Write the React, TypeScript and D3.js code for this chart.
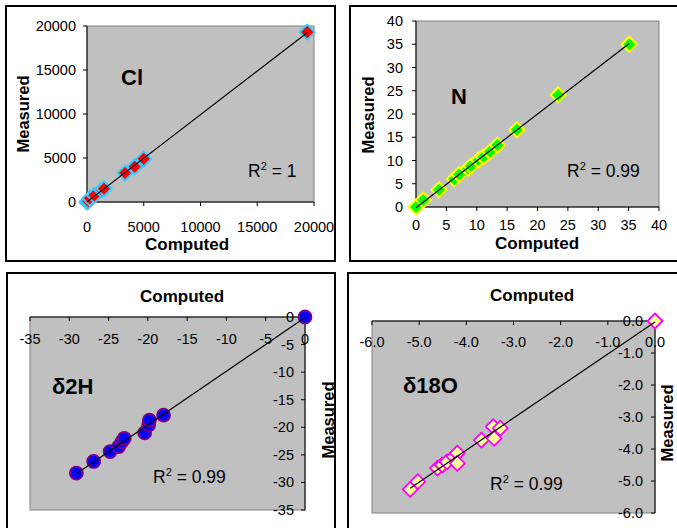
import React from "react";
import * as d3 from "d3";

// ---------- data ----------
const clComputed = [0, 120, 260, 650, 1300, 1500, 3350, 4200, 5000, 19400];
const clMeasured = [0, 100, 420, 750, 1360, 1500, 3300, 4000, 4900, 19300];
const clTicks = [0, 5000, 10000, 15000, 20000];

const nComputed = [0, 1.2, 3.8, 6.3, 7.1, 8.6, 9.05, 10.3, 11.1, 12.2, 13.4, 16.6, 23.4, 35.1];
const nMeasured = [0, 1.5, 3.7, 6.0, 7.0, 8.3, 8.8, 10.1, 10.8, 11.9, 13.3, 16.6, 24.1, 35.0];
const nTicks = [0, 5, 10, 15, 20, 25, 30, 35, 40];

const h2Computed = [-29.1, -26.9, -24.8, -23.7, -23.3, -23.0, -20.4, -19.9, -19.8, -18.0, 0];
const h2Measured = [-28.3, -26.2, -24.4, -23.5, -22.6, -22.0, -21.0, -19.6, -18.7, -17.8, 0];
const h2Ticks = [-35, -30, -25, -20, -15, -10, -5, 0];

const o18Computed = [-5.19, -5.03, -4.61, -4.51, -4.41, -4.26, -4.19, -4.19, -3.68, -3.43, -3.41, -3.28, 0];
const o18Measured = [-5.26, -5.02, -4.6, -4.5, -4.4, -4.24, -4.13, -4.45, -3.72, -3.3, -3.67, -3.35, 0];
const o18Ticks = [-6, -5, -4, -3, -2, -1, 0];

const panelLabels = ["Cl", "N", "δ2H", "δ18O"];
const r2Values = ["1", "0.99", "0.99", "0.99"];

const FONT = "'Liberation Sans', Arial, Helvetica, sans-serif";

type Spec = {
  xs: number[];
  ys: number[];
  xTicks: number[];
  yTicks: number[];
  xRange: [number, number];
  yRange: [number, number];
  fmt: (v: number) => string;
  frame: [number, number, number, number];
  xAxisTop: boolean;
  yAxisRight: boolean;
  xLabelY: number;
  yLabelX: number;
  xTitle: [number, number];
  yTitle: [number, number];
  label: string;
  labelPos: [number, number];
  r2: string;
  r2Pos: [number, number];
  marker: "diamond" | "circle";
  fill: string;
  stroke: string;
  size: number;
  sw: number;
};

function fit(xs: number[], ys: number[]) {
  const mx = d3.mean(xs)!;
  const my = d3.mean(ys)!;
  let sxy = 0, sxx = 0;
  xs.forEach((x, i) => {
    sxy += (x - mx) * (ys[i] - my);
    sxx += (x - mx) * (x - mx);
  });
  const b = sxy / sxx;
  const a = my - b * mx;
  return (x: number) => a + b * x;
}

function Panel({ s }: { s: Spec }) {
  const xDom = d3.extent(s.xTicks) as [number, number];
  const yDom = d3.extent(s.yTicks) as [number, number];
  const x = d3.scaleLinear().domain(xDom).range(s.xRange);
  const yDomOrdered: [number, number] = s.xAxisTop ? [yDom[1], yDom[0]] : [yDom[0], yDom[1]];
  const y = d3.scaleLinear().domain(yDomOrdered).range(s.yRange);
  const [fx, fy, fw, fh] = s.frame;
  const left = Math.min(...s.xRange);
  const right = Math.max(...s.xRange);
  const top = Math.min(...s.yRange);
  const bottom = Math.max(...s.yRange);
  const axisY = s.xAxisTop ? top : bottom;
  const axisX = s.yAxisRight ? right : left;
  const f = fit(s.xs, s.ys);
  const [x0, x1] = d3.extent(s.xs) as [number, number];
  const line = d3.line<[number, number]>().x((d) => x(d[0])).y((d) => y(d[1]));
  const tickLen = 4;
  const diamond = (cx: number, cy: number, r: number) =>
    `M${cx},${cy - r}L${cx + r},${cy}L${cx},${cy + r}L${cx - r},${cy}Z`;
  return (
    <g fontFamily={FONT}>
      <rect x={fx} y={fy} width={fw} height={fh} fill="white" stroke="black" strokeWidth={2} />
      <rect x={left} y={top} width={right - left} height={bottom - top} fill="#c0c0c0" stroke="#808080" strokeWidth={1} />
      {/* x axis */}
      <line x1={left} x2={right} y1={axisY} y2={axisY} stroke="black" strokeWidth={1} />
      {s.xTicks.map((t) => (
        <g key={"xt" + t}>
          <line x1={x(t)} x2={x(t)} y1={axisY} y2={axisY + tickLen} stroke="black" />
          <text x={x(t)} y={s.xLabelY} textAnchor="middle" fontSize={14.5}>
            {s.fmt(t)}
          </text>
        </g>
      ))}
      {/* y axis */}
      <line x1={axisX} x2={axisX} y1={top} y2={bottom} stroke="black" strokeWidth={1} />
      {s.yTicks.map((t) => (
        <g key={"yt" + t}>
          <line x1={axisX} x2={axisX - tickLen} y1={y(t)} y2={y(t)} stroke="black" />
          <text x={s.yLabelX} y={y(t) + 5} textAnchor="end" fontSize={14.5}>
            {s.fmt(t)}
          </text>
        </g>
      ))}
      {/* markers */}
      {s.xs.map((v, i) =>
        s.marker === "diamond" ? (
          <path key={"m" + i} d={diamond(x(v), y(s.ys[i]), s.size)} fill={s.fill} stroke={s.stroke} strokeWidth={s.sw} strokeLinejoin="round" />
        ) : (
          <circle key={"m" + i} cx={x(v)} cy={y(s.ys[i])} r={s.size} fill={s.fill} stroke={s.stroke} strokeWidth={s.sw} />
        )
      )}
      {/* trend line */}
      <path d={line([[x0, f(x0)], [x1, f(x1)]])!} stroke="black" strokeWidth={1.2} fill="none" />
      {/* titles */}
      <text x={s.xTitle[0]} y={s.xTitle[1]} textAnchor="middle" fontSize={17} fontWeight="bold">
        Computed
      </text>
      <text
        transform={`translate(${s.yTitle[0]},${s.yTitle[1]}) rotate(-90)`}
        textAnchor="middle"
        fontSize={16.5}
        fontWeight="bold"
      >
        Measured
      </text>
      <text x={s.labelPos[0]} y={s.labelPos[1]} fontSize={22} fontWeight="bold">
        {s.label}
      </text>
      <text x={s.r2Pos[0]} y={s.r2Pos[1]} fontSize={17.5}>
        R
        <tspan fontSize={11} dy={-7}>
          2
        </tspan>
        <tspan dy={7}>{" = " + s.r2}</tspan>
      </text>
    </g>
  );
}

export default function App() {
  const intFmt = (v: number) => String(v);
  const oneFmt = (v: number) => v.toFixed(1);
  const specs: Spec[] = [
    {
      xs: clComputed, ys: clMeasured, xTicks: clTicks, yTicks: clTicks,
      xRange: [87, 314], yRange: [202, 26], fmt: intFmt,
      frame: [6, 6, 329, 255], xAxisTop: false, yAxisRight: false,
      xLabelY: 232, yLabelX: 76, xTitle: [187, 250], yTitle: [29, 114],
      label: panelLabels[0], labelPos: [121, 85], r2: r2Values[0], r2Pos: [248, 177],
      marker: "diamond", fill: "#ff0000", stroke: "#33ccff", size: 7.5, sw: 2,
    },
    {
      xs: nComputed, ys: nMeasured, xTicks: nTicks, yTicks: nTicks,
      xRange: [416, 659], yRange: [207, 21], fmt: intFmt,
      frame: [350, 6, 340, 255], xAxisTop: false, yAxisRight: false,
      xLabelY: 230, yLabelX: 403, xTitle: [537, 249], yTitle: [374, 115],
      label: panelLabels[1], labelPos: [451, 104], r2: r2Values[1], r2Pos: [567, 177],
      marker: "diamond", fill: "#00ff00", stroke: "#ffff00", size: 7.5, sw: 2,
    },
    {
      xs: h2Computed, ys: h2Measured, xTicks: h2Ticks, yTicks: h2Ticks,
      xRange: [30, 305], yRange: [317, 510], fmt: intFmt,
      frame: [7, 273, 328, 280], xAxisTop: true, yAxisRight: true,
      xLabelY: 344, yLabelX: 294, xTitle: [182, 302], yTitle: [334, 420],
      label: panelLabels[2], labelPos: [52, 394], r2: r2Values[2], r2Pos: [153, 483],
      marker: "circle", fill: "#0000ff", stroke: "#800080", size: 6.5, sw: 1.8,
    },
    {
      xs: o18Computed, ys: o18Measured, xTicks: o18Ticks, yTicks: o18Ticks,
      xRange: [372, 655], yRange: [321, 513], fmt: oneFmt,
      frame: [348, 273, 340, 280], xAxisTop: true, yAxisRight: true,
      xLabelY: 347, yLabelX: 643, xTitle: [532, 301], yTitle: [673, 423],
      label: panelLabels[3], labelPos: [403, 393], r2: r2Values[3], r2Pos: [490, 490],
      marker: "diamond", fill: "#ffff99", stroke: "#ff00ff", size: 7.5, sw: 1.8,
    },
  ];
  return (
    <svg
      width={677}
      height={528}
      style={{ position: "absolute", left: 0, top: 0, background: "white" }}
    >
      <rect width={677} height={528} fill="white" />
      {specs.map((s, i) => (
        <Panel key={i} s={s} />
      ))}
    </svg>
  );
}
